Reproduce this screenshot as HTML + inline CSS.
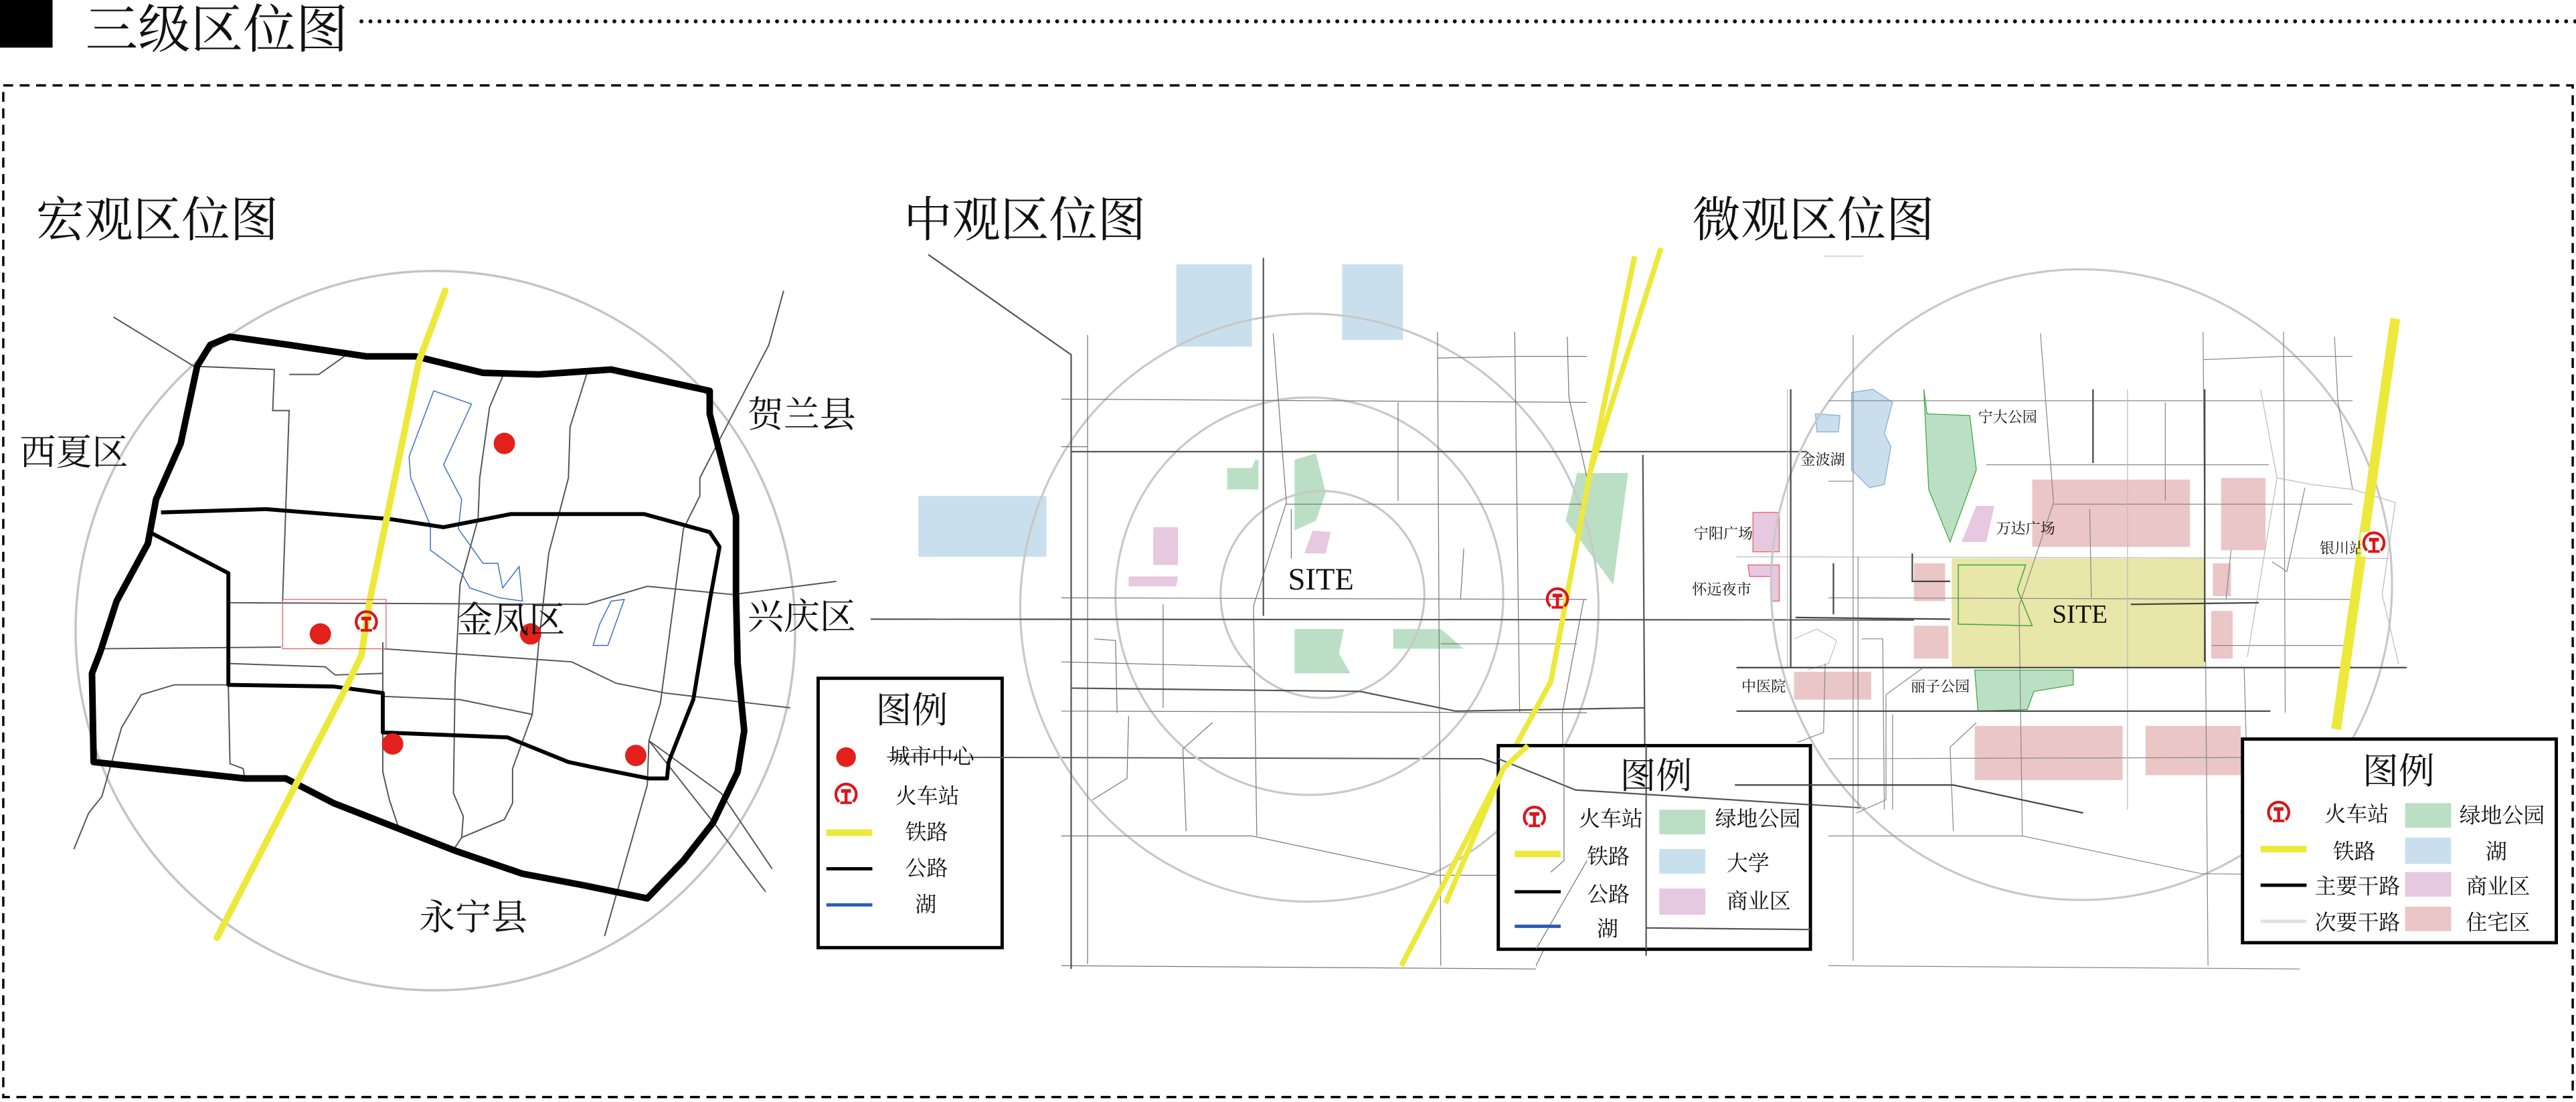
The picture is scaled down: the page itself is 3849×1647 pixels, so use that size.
<!DOCTYPE html>
<html><head><meta charset="utf-8"><style>
html,body{margin:0;padding:0;background:#fff;}
svg{display:block;}
text{font-family:"Liberation Serif","Noto Serif CJK SC",serif;fill:#111;}
</style></head><body>
<svg width="3849" height="1647" viewBox="0 0 1568 671" preserveAspectRatio="none" xmlns="http://www.w3.org/2000/svg">
<defs>
<g id="tr">
<path d="M-4.2,5.2 A6.2,6.2 0 1 1 4.2,5.2" fill="none" stroke="#d9161c" stroke-width="1.7"/>
<rect x="-3" y="-2.5" width="6" height="2.2" fill="#d9161c"/>
<rect x="-0.9" y="-0.5" width="1.8" height="6" fill="#d9161c"/>
<rect x="-3.5" y="5" width="7" height="1.6" fill="#d9161c"/>
</g>
</defs>
<!-- header -->
<rect x="0" y="0" width="32" height="29" fill="#000"/>
<text x="52" y="29" font-size="32">三级区位图</text>
<line x1="220" y1="13" x2="1568" y2="13" stroke="#000" stroke-width="2.4" stroke-linecap="round" stroke-dasharray="0 5.5"/>
<rect x="2" y="52" width="1564" height="616" fill="none" stroke="#000" stroke-width="1.4" stroke-dasharray="6 4"/>

<text x="22" y="144" font-size="29.5">宏观区位图</text>
<text x="550" y="144" font-size="29.5">中观区位图</text>
<text x="1030" y="144" font-size="29.5">微观区位图</text>

<!-- ============ MACRO ============ -->
<circle cx="265" cy="384" r="219" fill="none" stroke="#c4c4c4" stroke-width="1.4"/>
<g fill="none" stroke="#555" stroke-width="0.8">
<polyline points="69,193 118,223 167,225 166,250 176,250 172,366"/>
<polyline points="176,228 194,228 211,216"/>
<polyline points="140,367 357,368 394,357 446,362 509,354"/>
<polyline points="61,395 171,394"/>
<polyline points="233,395 348,403 375,416 405,422 481,431"/>
<polyline points="139,404 198,406 204,411 233,410"/>
<polyline points="233,424 280,426 324,435"/>
<polyline points="139,417 106,417 86,423 74,443 62,485 54,495 45,517"/>
<polyline points="139,418 140,465 148,468 149,474"/>
<polyline points="233,391 233,470 237,487 243,505"/>
<polyline points="306,229 298,248 292,291 291,316 280,356 277,416 276,483 282,497 281,510 275,519"/>
<polyline points="281,510 307,499 312,489 312,468 324,435 328,391 334,337 346,291 347,260 358,225"/>
<polyline points="477,177 468,210 443,258 426,291 426,302 416,322 402,428 395,451 394,478 368,570"/>
<polyline points="395,451 439,483 470,529"/>
<polyline points="395,451 436,503 466,543"/>
<polyline points="540,461 902,462 959,481 1135,492"/>
</g>
<polygon points="264,238 287,246 270,283 281,304 279,322 294,343 303,343 306,358 316,345 318,366 304,364 286,358 281,349 262,335 262,320 250,291 249,278" fill="none" stroke="#3a6fc4" stroke-width="0.6"/>
<polygon points="372,366 380,365 370,393 361,393 365,380" fill="none" stroke="#3a6fc4" stroke-width="0.6"/>
<polygon points="128,210 140,205 176,210 223,217 253,217 294,227 328,228 372,225 432,238 432,252 439,279 448,314 448,362 449,404 453,445 449,470 434,501 416,524 394,547 355,539 318,532 277,518 203,489 174,474 149,474 57,464 56,410 61,397 71,366 90,331 95,304 110,270 120,223" fill="none" stroke="#000" stroke-width="4" stroke-linejoin="round"/>
<polyline points="91,324 139,349 139,417 203,418 233,422 233,446 309,449 346,464 365,468 395,474 406,474 407,464 422,426 432,366 438,333 432,324 392,313 311,313 270,321 237,316 162,310 98,312" fill="none" stroke="#000" stroke-width="2.4" stroke-linejoin="round"/>
<polyline points="271,177 255,220 225,366 220,399 211,418 182,474 132,571" fill="none" stroke="#ece93a" stroke-width="4" stroke-linecap="round"/>
<rect x="172" y="365" width="63" height="30" fill="none" stroke="#e35b5b" stroke-width="0.5"/>
<g fill="#e3201b"><circle cx="307" cy="270" r="6.5"/><circle cx="195" cy="386" r="6.5"/><circle cx="323" cy="386" r="6.5"/><circle cx="239" cy="453" r="6.5"/><circle cx="387" cy="460" r="6.5"/></g>
<use href="#tr" x="223" y="378"/>
<g font-size="22">
<text x="12" y="283">西夏区</text>
<text x="455" y="260">贺兰县</text>
<text x="455" y="383">兴庆区</text>
<text x="278" y="385">金凤区</text>
<text x="255" y="566">永宁县</text>
</g>
<!-- macro legend -->
<rect x="498" y="413" width="112" height="164" fill="#fff" stroke="#000" stroke-width="2"/>
<line x1="540" y1="461" x2="612" y2="461.2" stroke="#555" stroke-width="0.8"/>
<text x="533" y="440" font-size="22">图例</text>
<circle cx="515" cy="461" r="6" fill="#e3201b"/>
<use href="#tr" x="515" y="483"/>
<line x1="503" y1="507" x2="531" y2="507" stroke="#ece93a" stroke-width="4"/>
<line x1="503" y1="529" x2="531" y2="529" stroke="#000" stroke-width="2"/>
<line x1="503" y1="551" x2="531" y2="551" stroke="#2a5db5" stroke-width="2"/>
<g font-size="13">
<text x="541" y="465">城市中心</text>
<text x="545" y="489">火车站</text>
<text x="551" y="511">铁路</text>
<text x="551" y="533">公路</text>
<text x="557" y="555">湖</text>
</g>

<!-- ============ MIDDLE ============ -->
<g fill="#c9dfee"><rect x="716" y="161" width="46" height="50"/><rect x="817" y="161" width="37" height="46"/><rect x="559" y="302" width="78" height="37"/></g>
<g fill="#bbdfc4">
<polygon points="747,285 762,285 764,280 766,280 766,298 747,298"/>
<polygon points="788,280 801,276 807,300 801,317 788,323"/>
<polygon points="788,383 818,383 815,398 822,410 788,410"/>
<polygon points="848,383 877,383 891,395 848,395"/>
<polygon points="960,288 991,288 982,356 953,317"/>
</g>
<g fill="#e6c8e0">
<rect x="702" y="321" width="15" height="23"/>
<polygon points="687,351 717,351 716,357 687,357"/>
<polygon points="799,323 810,324 807,337 794,337"/>
</g>
<g fill="none" stroke="#c8c8c8" stroke-width="1.3">
<ellipse cx="797" cy="370" rx="176" ry="179"/>
<ellipse cx="797" cy="363" rx="118" ry="121"/>
<ellipse cx="805" cy="362" rx="62" ry="63"/>
</g>
<g fill="none" stroke="#777" stroke-width="0.5">
<polyline points="646,243 966,245"/>
<polyline points="646,364 966,365"/>
<polyline points="646,403 762,406"/>
<polyline points="646,433 966,434"/>
<polyline points="646,509 762,509 875,533 966,533"/>
<polyline points="646,588 935,590"/>
<polyline points="875,218 924,217 966,217"/>
<polyline points="662,204 662,587"/>
<polyline points="775,203 783,306 763,369 765,509"/>
<polyline points="783,307 966,307"/>
<polyline points="786,310 786,340"/>
<polyline points="851,245 851,305"/>
<polyline points="875,202 877,588"/>
<polyline points="922,202 925,434"/>
<polyline points="954,205 955,242 966,291"/>
<polyline points="708,368 708,431"/>
<polyline points="666,389 679,390 680,434"/>
<polyline points="687,436 686,474 665,487"/>
<polyline points="738,440 720,456 722,506"/>
<polyline points="891,334 889,365"/>
<polyline points="877,392 960,392"/>
<polyline points="964,365 951,434 952,524 944,531"/>
<polyline points="966,524 935,588"/>
<polyline points="646,272 662,272 M646,293 662,293"/>
</g>
<g fill="none" stroke="#555" stroke-width="0.9">
<polyline points="565,155 652,216 652,590"/>
<polyline points="769,157 769,375"/>
<polyline points="652,275 1100,275"/>
<polyline points="530,377 1165,377.5"/>
<polyline points="652,419 828,421 886,433 1001,431"/>
<polyline points="1000,277 1002,582"/>
<polyline points="1000,565 1102,566"/>
</g>
<polyline points="995,156 968,287 944,415 915,468 853,588" fill="none" stroke="#ece93a" stroke-width="3.2"/>
<polyline points="1011,151 968,287" fill="none" stroke="#ece93a" stroke-width="3.2"/>
<use href="#tr" x="948" y="364"/>
<text x="784" y="359" font-size="19" font-family="Liberation Serif,serif">SITE</text>
<!-- middle legend -->
<rect x="912" y="454" width="190" height="124" fill="#fff" stroke="#000" stroke-width="2"/>
<g fill="none" stroke="#555" stroke-width="0.9"><polyline points="912,462 959,481 1102,490"/><polyline points="1002,454 1002,578"/><polyline points="1002,565 1102,566"/></g>
<g fill="none" stroke="#777" stroke-width="0.5"><polyline points="952,454 952,524 944,531"/><polyline points="966,524 935,578"/></g>
<polyline points="930,454 915,468 880,550" fill="none" stroke="#ece93a" stroke-width="3.2"/>
<text x="986" y="480" font-size="22">图例</text>
<use href="#tr" x="934" y="497"/>
<line x1="922" y1="520" x2="950" y2="520" stroke="#ece93a" stroke-width="4"/>
<line x1="922" y1="543" x2="950" y2="543" stroke="#000" stroke-width="2"/>
<line x1="922" y1="564" x2="950" y2="564" stroke="#2a5db5" stroke-width="2"/>
<rect x="1010" y="493" width="28" height="15" fill="#bbdfc4"/>
<rect x="1010" y="517" width="28" height="15" fill="#c9dfee"/>
<rect x="1010" y="541" width="28" height="16" fill="#e6c8e0"/>
<g font-size="13">
<text x="961" y="503">火车站</text>
<text x="966" y="526">铁路</text>
<text x="966" y="549">公路</text>
<text x="972" y="570">湖</text>
<text x="1044" y="503">绿地公园</text>
<text x="1051" y="530">大学</text>
<text x="1051" y="553">商业区</text>
</g>

<!-- ============ MICRO ============ -->
<rect x="1188" y="340" width="154" height="66" fill="#e8e6a8"/>
<g fill="#ebc6c6">
<rect x="1237" y="292" width="96" height="41"/>
<rect x="1352" y="291" width="27" height="44"/>
<rect x="1165" y="343" width="19" height="23"/>
<rect x="1165" y="381" width="21" height="20"/>
<rect x="1347" y="343" width="11" height="20"/>
<rect x="1346" y="372" width="13" height="29"/>
<rect x="1092" y="409" width="47" height="17"/>
<rect x="1202" y="442" width="90" height="33"/>
<rect x="1306" y="442" width="58" height="30"/>
</g>
<polygon points="1171,237 1173,252 1199,253 1203,286 1187,330 1174,298" fill="#bbdfc4" stroke="#3aa83a" stroke-width="0.5"/>
<polygon points="1202,408 1240,408 1262,408 1262,417 1238,421 1234,432 1204,433" fill="#bbdfc4" stroke="#3aa83a" stroke-width="0.5"/>
<polygon points="1192,344 1233,344 1228,359 1237,381 1192,380" fill="none" stroke="#3aa83a" stroke-width="0.6"/>
<polygon points="1127,239 1140,237 1152,245 1147,264 1151,272 1147,295 1138,297 1127,286" fill="#c9dfee" stroke="#8aa7d8" stroke-width="0.5"/>
<polygon points="1105,252 1120,253 1119,263 1106,263" fill="#c9dfee" stroke="#8aa7d8" stroke-width="0.5"/>
<polygon points="1203,308 1214,308 1209,330 1194,330" fill="#e6c8e0"/>
<rect x="1067" y="312" width="16" height="24" fill="#e6c8e0" stroke="#e35b5b" stroke-width="0.5"/>
<polygon points="1064,344 1083,344 1083,366 1078,366 1078,351 1065,351" fill="#e6c8e0" stroke="#e35b5b" stroke-width="0.5"/>
<polyline points="1110,156 1134,156 M1101,175 1101,225 1109,233 M1101,175 1110,156" fill="none" stroke="#9fb3dd" stroke-width="0.4"/>
<polyline points="1092,389 1106,383 1118,390 1113,404 1100,408" fill="none" stroke="#9fb3dd" stroke-width="0.4"/>
<ellipse cx="1267" cy="356" rx="189" ry="192" fill="none" stroke="#c8c8c8" stroke-width="1.3"/>
<g fill="none" stroke="#888" stroke-width="0.5">
<polyline points="1209,283 1381,283"/>
<polyline points="1250,307 1432,307"/>
<polyline points="1113,244 1432,244"/>
<polyline points="1057,339 1454,340" stroke="#bbb"/>
<polyline points="1113,364 1432,365"/>
<polyline points="1346,393 1427,393"/>
<polyline points="1113,462 1430,461"/>
<polyline points="1113,509 1231,509 1340,532 1440,533"/>
<polyline points="1113,588 1400,590"/>
<polyline points="1341,219 1390,217 1432,217"/>
<polyline points="1128,204 1128,585"/>
<polyline points="1242,203 1250,306 1229,369 1231,509"/>
<polyline points="1318,245 1318,305"/>
<polyline points="1295,237 1295,493" stroke="#bbb"/>
<polyline points="1341,202 1344,588"/>
<polyline points="1390,202 1391,434"/>
<polyline points="1421,205 1423,244 1432,298"/>
<polyline points="1403,297 1392,348 1383,342"/>
<polyline points="1376,237 1386,291 1368,400" stroke="#bbb"/>
<polyline points="1272,310 1273,364"/>
<polyline points="1358,335 1355,365"/>
<polyline points="1116,343 1116,374"/>
<polyline points="1131,339 1131,493"/>
<polyline points="1133,389 1146,389 1147,493"/>
<polyline points="1170,407 1148,423 1148,487 1130,495"/>
<polyline points="1111,404 1110,446 1094,452"/>
<polyline points="1203,440 1187,455 1189,506"/>
<polyline points="1152,435 1152,493"/>
<polyline points="1366,406 1368,478 1364,495"/>
<polyline points="1386,291 1407,295 1432,298 1458,306 1450,362 1460,404" stroke="#bbb"/>
<polyline points="1088,237 1088,406" stroke="#bbb"/>
<polyline points="1113,293 1128,293 M1113,332 1128,332"/>
</g>
<g fill="none" stroke="#444" stroke-width="0.9">
<polyline points="1057,406.5 1465,406.5"/>
<polyline points="1057,433 1382,433"/>
<polyline points="1090,237 1090,406"/>
<polyline points="1274,237 1274,282"/>
<polyline points="1342,237 1342,403"/>
<polyline points="1093,376 1187,377"/>
<polyline points="1297,368 1375,367"/>
<polyline points="1164,337 1164,354 1187,354"/>
<polyline points="1056,478 1189,478 1268,495"/>
<polyline points="1116,343 1116,374"/>
</g>
<line x1="1458" y1="194" x2="1422" y2="444" stroke="#ece93a" stroke-width="6"/>
<text x="1266" y="379" font-size="16" text-anchor="middle" font-family="Liberation Serif,serif">SITE</text>
<g font-size="9">
<text x="1204" y="257">宁大公园</text>
<text x="1096" y="283">金波湖</text>
<text x="1031" y="328">宁阳广场</text>
<text x="1030" y="362">怀远夜市</text>
<text x="1215" y="325">万达广场</text>
<text x="1060" y="421">中医院</text>
<text x="1163" y="421">丽子公园</text>
<text x="1412" y="337">银川站</text>
</g>
<rect x="1437" y="324" width="16" height="15" fill="#fff" opacity="0.9"/>
<use href="#tr" x="1445" y="330"/>
<!-- micro legend -->
<rect x="1365" y="450" width="191" height="124" fill="#fff" stroke="#000" stroke-width="2"/>
<text x="1438" y="477" font-size="22">图例</text>
<use href="#tr" x="1387" y="494"/>
<line x1="1376" y1="517" x2="1404" y2="517" stroke="#ece93a" stroke-width="4"/>
<line x1="1376" y1="539" x2="1404" y2="539" stroke="#000" stroke-width="2"/>
<line x1="1376" y1="561" x2="1404" y2="561" stroke="#e0e0e0" stroke-width="2"/>
<rect x="1464" y="489" width="28" height="15" fill="#bbdfc4"/>
<rect x="1464" y="510" width="28" height="16" fill="#c9dfee"/>
<rect x="1464" y="531" width="28" height="15" fill="#e6c8e0"/>
<rect x="1464" y="552" width="28" height="15" fill="#ebc6c6"/>
<g font-size="13">
<text x="1415" y="500">火车站</text>
<text x="1420" y="523">铁路</text>
<text x="1409" y="544">主要干路</text>
<text x="1409" y="566">次要干路</text>
<text x="1497" y="501">绿地公园</text>
<text x="1513" y="523">湖</text>
<text x="1501" y="544">商业区</text>
<text x="1501" y="566">住宅区</text>
</g>
</svg>
</body></html>
